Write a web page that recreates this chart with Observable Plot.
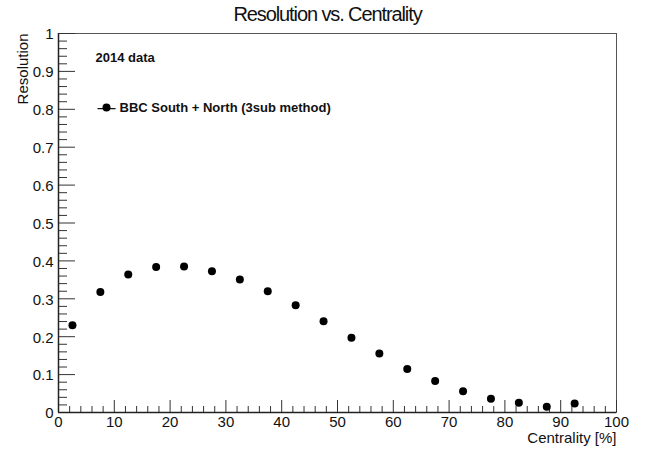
<!DOCTYPE html>
<html><head><meta charset="utf-8">
<script src="https://cdn.jsdelivr.net/npm/d3@7"></script>
<script src="https://cdn.jsdelivr.net/npm/@observablehq/plot@0.6"></script>
<style>body{margin:0;background:#fff} svg{display:block}</style>
</head><body><div id="chart"></div>
<script>
const centrality = [2.5, 7.5, 12.5, 17.5, 22.5, 27.5, 32.5, 37.5, 42.5, 47.5, 52.5, 57.5, 62.5, 67.5, 72.5, 77.5, 82.5, 87.5, 92.5];
const resolution = [0.230, 0.318, 0.364, 0.384, 0.385, 0.373, 0.351, 0.320, 0.283, 0.241, 0.197, 0.156, 0.115, 0.083, 0.056, 0.036, 0.026, 0.015, 0.024];
const xMajor = [0, 10, 20, 30, 40, 50, 60, 70, 80, 90, 100];
const yMajor = [0, 0.1, 0.2, 0.3, 0.4, 0.5, 0.6, 0.7, 0.8, 0.9, 1];
const xMinor = d3.range(0, 101, 2).filter(v => v % 10 !== 0);
const yMinor = d3.range(0, 51).map(i => i / 50).filter((v, i) => i % 5 !== 0);
const title = "Resolution vs. Centrality";
const xLabel = "Centrality [%]";
const yLabel = "Resolution";
const legendNote = "2014 data";
const seriesName = "BBC South + North (3sub method)";

const data = centrality.map((c, i) => ({c, r: resolution[i]}));
const W = 654, H = 450, mL = 58, mR = 38, mT = 33, mB = 38;
const fw = W - mL - mR, fh = H - mT - mB;
const font = "'Liberation Sans', Arial, Helvetica, sans-serif";

const chart = Plot.plot({
  width: W, height: H,
  marginLeft: mL, marginRight: mR, marginTop: mT, marginBottom: mB,
  style: {fontFamily: font, fontSize: "15px", color: "#111", background: "#fff"},
  x: {domain: [0, 100]},
  y: {domain: [0, 1]},
  marks: [
    Plot.frame({stroke: "#555", strokeWidth: 1}),
    Plot.ruleY(yMajor, {stroke: "#333", insetRight: fw - 17}),
    Plot.ruleY(yMinor, {stroke: "#333", insetRight: fw - 9}),
    Plot.ruleX(xMajor, {stroke: "#333", insetTop: fh - 12}),
    Plot.ruleX(xMinor, {stroke: "#333", insetTop: fh - 6}),
    Plot.ruleX([0], {stroke: "#222", strokeWidth: 1.5}),
    Plot.ruleY([0], {stroke: "#222", strokeWidth: 1.5}),
    Plot.axisY(yMajor, {tickSize: 0, tickPadding: 5, tickFormat: d => String(d), label: null, fontSize: 15, fill: "#111", dy: 1}),
    Plot.axisX(xMajor, {tickSize: 0, tickPadding: 4, tickFormat: d => String(d), label: null, fontSize: 15, fill: "#111"}),
    Plot.dot(data, {x: "c", y: "r", r: 4, fill: "black", stroke: "none"}),
    Plot.text([title], {text: d => d, frameAnchor: "top", lineAnchor: "middle", dx: -10, dy: -19, fontSize: 20, fill: "#111"}),
    Plot.text([yLabel], {text: d => d, frameAnchor: "top-left", lineAnchor: "middle", rotate: -90, textAnchor: "end", dx: -35, dy: 0, fontSize: 15, fill: "#111"}),
    Plot.text([xLabel], {text: d => d, frameAnchor: "bottom-right", lineAnchor: "middle", textAnchor: "end", dy: 26, fontSize: 15, fill: "#111"}),
    Plot.text([legendNote], {text: d => d, frameAnchor: "top-left", lineAnchor: "middle", textAnchor: "start", dx: 37, dy: 24, fontSize: 13, fontWeight: "bold", fill: "#111"}),
    Plot.text(["\u2014"], {text: d => d, frameAnchor: "top-left", lineAnchor: "middle", textAnchor: "middle", dx: 48, dy: 74, fontSize: 18, fill: "#111"}),
    Plot.dot([seriesName], {frameAnchor: "top-left", dx: 48, dy: 74, r: 4, fill: "black", stroke: "none"}),
    Plot.text([seriesName], {text: d => d, frameAnchor: "top-left", lineAnchor: "middle", textAnchor: "start", dx: 61, dy: 74, fontSize: 13, fontWeight: "bold", fill: "#111"})
  ]
});
d3.select(chart).selectAll("text")
  .filter(function () { return this.textContent === title; })
  .attr("letter-spacing", "-1.1px");
document.getElementById("chart").append(chart);
</script>
</body></html>
